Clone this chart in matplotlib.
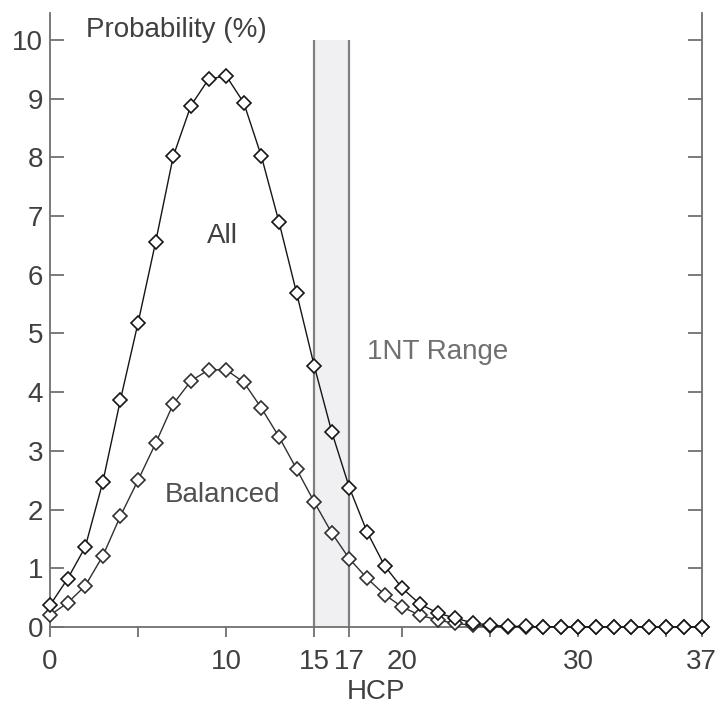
import numpy as np
import matplotlib.pyplot as plt

plt.rcParams['font.family'] = ['Liberation Sans', 'DejaVu Sans']

hcp = list(range(0, 38))
p_all = [0.37, 0.82, 1.36, 2.47, 3.87, 5.18, 6.56, 8.02, 8.88, 9.33,
         9.39, 8.93, 8.02, 6.90, 5.69, 4.45, 3.32, 2.37, 1.62, 1.04,
         0.66, 0.39, 0.24, 0.15, 0.07, 0.03, 0.01, 0.01, 0.0, 0.0,
         0.0, 0.0, 0.0, 0.0, 0.0, 0.0, 0.0, 0.0]
p_bal = [0.20, 0.41, 0.70, 1.21, 1.89, 2.50, 3.13, 3.80, 4.19, 4.38,
         4.38, 4.17, 3.73, 3.24, 2.69, 2.13, 1.60, 1.16, 0.83, 0.55,
         0.34, 0.20, 0.12, 0.06, 0.03, 0.01, 0.0, 0.0, 0.0, 0.0,
         0.0, 0.0, 0.0, 0.0, 0.0, 0.0, 0.0, 0.0]

nt_lo, nt_hi = 15, 17
xticks = [0, 5, 10, 15, 17, 20, 25, 30, 35, 37]
xlabels = ['0', '', '10', '15', '17', '20', '', '30', '', '37']
yticks = list(range(0, 11))

txt = '#404040'
spine = '#707070'
fs = 20

fig = plt.figure(figsize=(7.17, 7.19), dpi=100)
ax = fig.add_axes([0.0697, 0.128, 0.909, 0.854])

# 1NT range band
ax.fill_between([nt_lo, nt_hi], 0, 10, color='#f0f0f2', lw=0, zorder=1)
ax.vlines([nt_lo, nt_hi], 0, 10, colors='#808080', lw=1.6, zorder=2)

ax.plot(hcp, p_bal, color='#303030', lw=1.0, marker='D', ms=7.5,
        mfc='white', mec='#303030', mew=1.2, clip_on=False, zorder=3)
ax.plot(hcp, p_all, color='#151515', lw=1.0, marker='D', ms=7.5,
        mfc='white', mec='#151515', mew=1.2, clip_on=False, zorder=4)

ax.set_xlim(0, 37)
ax.set_ylim(0, 10.46)
ax.set_xticks(xticks)
ax.set_xticklabels(xlabels)
ax.set_yticks(yticks)

for s in ['left', 'right', 'bottom']:
    ax.spines[s].set_color(spine)
    ax.spines[s].set_linewidth(1.3)
ax.spines['top'].set_visible(False)

ax.tick_params(axis='y', direction='in', length=10, width=1.3, color=spine,
               right=True, labelright=False, labelsize=fs, labelcolor=txt, pad=5)
ax.tick_params(axis='x', direction='out', length=7, width=1.3, color=spine,
               labelsize=fs, labelcolor=txt, pad=9)

ax.set_xlabel('HCP', fontsize=fs, color=txt, labelpad=3)

ax.text(7.2, 10.17, 'Probability (%)', fontsize=fs, color=txt,
        ha='center', va='center')
ax.text(9.8, 6.66, 'All', fontsize=fs, color=txt, ha='center', va='center')
ax.text(9.8, 2.25, 'Balanced', fontsize=fs, color='#505050',
        ha='center', va='center')
ax.text(22.0, 4.68, '1NT Range', fontsize=fs, color='#707070',
        ha='center', va='center')

fig.savefig('out.png', dpi=100)
